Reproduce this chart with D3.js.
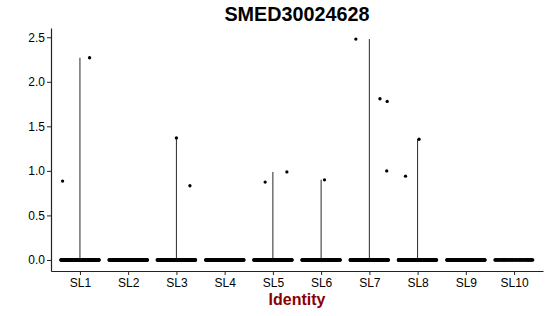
<!DOCTYPE html>
<html>
<head>
<meta charset="utf-8">
<script src="https://cdn.jsdelivr.net/npm/d3@7"></script>
<style>
  body { margin: 0; background: #fff; }
  #viz { width: 550px; height: 316px; }
  text { font-family: "Liberation Sans", Arial, sans-serif; }
</style>
</head>
<body>
<div id="viz"></div>
<script>
// cluster identities
var idents = ["SL1", "SL2", "SL3", "SL4", "SL5", "SL6", "SL7", "SL8", "SL9", "SL10"];

// number of cells with zero expression per cluster (estimated)
var zeroCounts = [170, 165, 170, 160, 165, 160, 170, 165, 150, 70];

// non-zero expression values per cluster
var exprValues = [
  [0.886, 2.27],
  [],
  [1.37, 0.833],
  [],
  [0.874, 0.988],
  [0.90],
  [2.48, 1.81, 1.78, 1.00],
  [0.94, 1.355],
  [],
  []
];

// horizontal jitter of the non-zero points (fraction of category spacing)
var exprJitter = [
  [-0.36, 0.20],
  [],
  [0.0, 0.28],
  [],
  [-0.16, 0.29],
  [0.07],
  [-0.28, 0.22, 0.37, 0.36],
  [-0.25, 0.03],
  [],
  []
];

var yTicks = [0, 0.5, 1, 1.5, 2, 2.5];

var width = 550, height = 316;
var margin = {top: 28, right: 7, bottom: 45, left: 51};

var svg = d3.select("#viz").append("svg")
    .attr("width", width)
    .attr("height", height);

svg.append("rect")
    .attr("width", width)
    .attr("height", height)
    .attr("fill", "white");

var allVals = [0].concat(d3.merge(exprValues));
var yMin = d3.min(allVals), yMax = d3.max(allVals);
var pad = (yMax - yMin) * 0.05;

var x = d3.scalePoint()
    .domain(idents)
    .range([margin.left, width - margin.right])
    .padding(0.6);

var y = d3.scaleLinear()
    .domain([yMin - pad, yMax + pad])
    .range([height - margin.bottom, margin.top]);

var step = x.step();

// violins: with almost all cells at zero they collapse to a thin line
var violins = svg.append("g").attr("class", "violins");
idents.forEach(function(id, i) {
  if (exprValues[i].length == 0) return;
  var vmax = d3.max(exprValues[i]);
  violins.append("line")
      .attr("x1", x(id)).attr("x2", x(id))
      .attr("y1", y(0)).attr("y2", y(vmax))
      .attr("stroke", "#111")
      .attr("stroke-width", 0.9);
});

// build point table: zeros (deterministic jitter) + non-zero values
var points = [];
idents.forEach(function(id, i) {
  for (var k = 0; k < zeroCounts[i]; k++) {
    var f = ((k + 1) * 0.6180339887 + i * 0.29) % 1;
    points.push({ident: id, value: 0, jit: f * 0.8 - 0.4});
  }
  exprValues[i].forEach(function(v, j) {
    points.push({ident: id, value: v, jit: exprJitter[i][j]});
  });
});

svg.append("g").attr("class", "points")
    .selectAll("circle")
    .data(points)
    .enter()
    .append("circle")
    .attr("cx", function(d) { return x(d.ident) + d.jit * step; })
    .attr("cy", function(d) { return y(d.value); })
    .attr("r", 1.65)
    .attr("fill", "black");

// axes
var yAxis = svg.append("g")
    .attr("transform", "translate(" + margin.left + ",0)")
    .call(d3.axisLeft(y).tickValues(yTicks).tickFormat(d3.format(".1f"))
      .tickSize(4).tickSizeOuter(0).tickPadding(2));

var xAxis = svg.append("g")
    .attr("transform", "translate(0," + (height - margin.bottom) + ")")
    .call(d3.axisBottom(x).tickSize(4).tickSizeOuter(0).tickPadding(3));

[yAxis, xAxis].forEach(function(a) {
  a.select(".domain").attr("stroke", "#222").attr("stroke-width", 1.2);
  a.selectAll(".tick line").attr("stroke", "#222").attr("stroke-width", 1);
  a.selectAll(".tick text")
      .attr("font-size", "12px")
      .attr("fill", "black")
      .style("font-family", "'Liberation Sans', Arial, sans-serif");
});

// title
svg.append("text")
    .attr("x", (margin.left + width - margin.right) / 2)
    .attr("y", 21)
    .attr("text-anchor", "middle")
    .attr("font-size", "19.8px")
    .attr("font-weight", "bold")
    .attr("fill", "black")
    .text("SMED30024628");

// x axis title
svg.append("text")
    .attr("x", (margin.left + width - margin.right) / 2)
    .attr("y", 305)
    .attr("text-anchor", "middle")
    .attr("font-size", "16px")
    .attr("font-weight", "bold")
    .attr("fill", "#8b0000")
    .text("Identity");
</script>
</body>
</html>
